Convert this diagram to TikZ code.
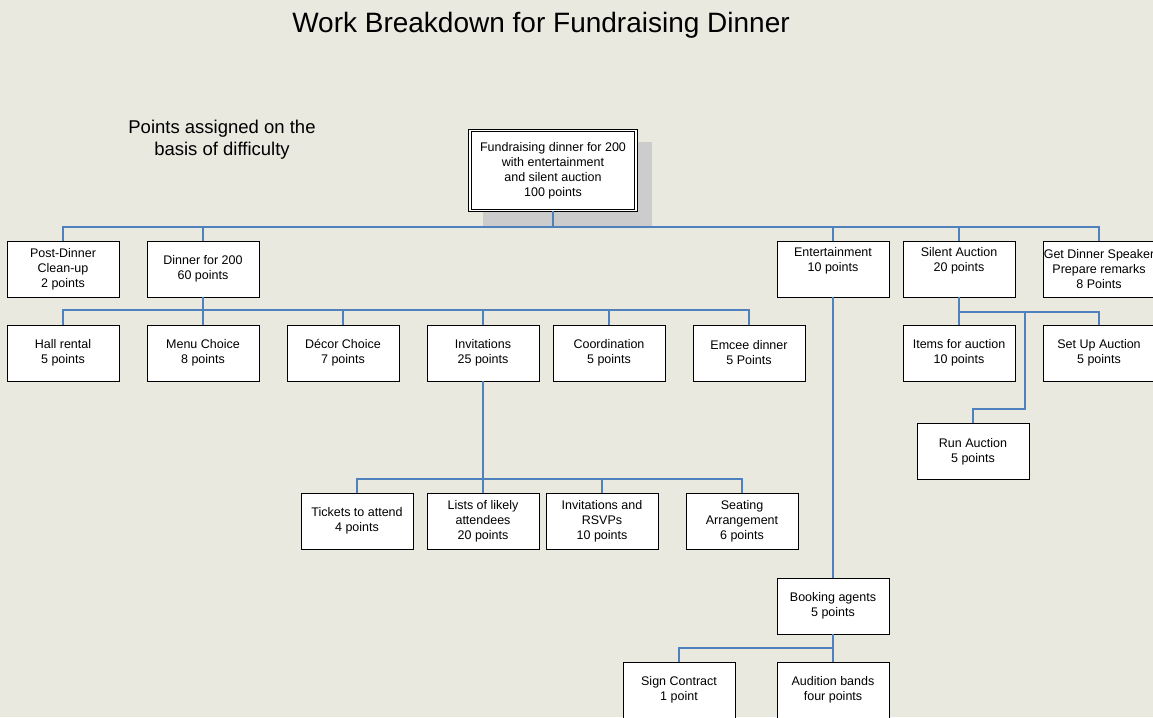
\documentclass[tikz,border=0pt]{standalone}
\usepackage{fontspec}
\setmainfont{Liberation Sans}
\definecolor{bg}{RGB}{233,233,223}
\definecolor{conn}{RGB}{79,129,189}
\definecolor{shadowgray}{RGB}{204,204,204}
\begin{document}
\begin{tikzpicture}[x=1pt,y=-1pt,
  box/.style={draw=black,line width=0.9pt,fill=white,minimum width=112pt,minimum height=56pt,
    inner sep=0pt,align=center,font=\fontsize{12.5}{15}\selectfont},
  wire/.style={draw=conn,line width=1.2pt}]
\useasboundingbox (0,0) rectangle (1153,717);
\clip (0,0) rectangle (1153,717);
\fill[bg] (0,0) rectangle (1153,717);
\node[font=\fontsize{28}{32}\selectfont] (title) at (541,25) {Work Breakdown for Fundraising Dinner};
\node[font=\fontsize{18.5}{22}\selectfont,align=center] (note) at (222,140) {Points assigned on the\\basis of difficulty};
% root
\fill[shadowgray] (483,142) rectangle (652,227);
\node[box,minimum width=166pt,minimum height=80pt,double,double distance=1.8pt,line width=0.8pt] (root) at (553,170.5)
  {Fundraising dinner for 200\\with entertainment\\and silent auction\\100 points};
% level 1
\node[box] (post) at (63,269) {Post-Dinner\\Clean-up\\2 points};
\node[box] (dinner) at (203,269) {Dinner for 200\\60 points};
\node[box] (ent) at (833,269) {Entertainment\\10 points\\\strut};
\node[box] (silent) at (959,269) {Silent Auction\\20 points\\\strut};
\node[box] (speaker) at (1099,269) {Get Dinner Speaker\\Prepare remarks\\8 Points};
% level 2
\node[box] (hall) at (63,353) {Hall rental\\5 points};
\node[box] (menu) at (203,353) {Menu Choice\\8 points};
\node[box] (decor) at (343,353) {Décor Choice\\7 points};
\node[box] (invit) at (483,353) {Invitations\\25 points};
\node[box] (coord) at (609,353) {Coordination\\5 points};
\node[box] (emcee) at (749,353) {Emcee dinner\\5 Points};
\node[box] (items) at (959,353) {Items for auction\\10 points};
\node[box] (setup) at (1099,353) {Set Up Auction\\5 points};
\node[box] (run) at (973,451.5) {Run Auction\\5 points};
% level 3
\node[box] (tickets) at (357,521) {Tickets to attend\\4 points};
\node[box] (lists) at (483,521) {Lists of likely\\attendees\\20 points};
\node[box] (rsvp) at (602,521) {Invitations and\\RSVPs\\10 points};
\node[box] (seat) at (742,521) {Seating\\Arrangement\\6 points};
\node[box] (book) at (833,606) {Booking agents\\5 points};
\node[box] (sign) at (679,690) {Sign Contract\\1 point};
\node[box] (aud) at (833,690) {Audition bands\\four points};
% connectors
\coordinate (b0) at (553,227);
\draw[wire] (root.south) -- (b0);
\foreach \n in {post,dinner,ent,silent,speaker} \draw[wire] (b0) -| (\n.north);
\coordinate (b1) at (203,310);
\draw[wire] (dinner.south) -- (b1);
\foreach \n in {hall,menu,decor,invit,coord,emcee} \draw[wire] (b1) -| (\n.north);
\coordinate (b2) at (959,312);
\coordinate (r1) at (1025,409);
\draw[wire] (silent.south) -- (b2);
\foreach \n in {items,setup} \draw[wire] (b2) -| (\n.north);
\draw[wire] (b2) -| (r1) -| (run.north);
\coordinate (b3) at (483,479);
\draw[wire] (invit.south) -- (b3);
\foreach \n in {tickets,lists,rsvp,seat} \draw[wire] (b3) -| (\n.north);
\draw[wire] (ent.south) -- (book.north);
\coordinate (b4) at (833,648);
\draw[wire] (book.south) -- (b4);
\foreach \n in {sign,aud} \draw[wire] (b4) -| (\n.north);
\end{tikzpicture}
\end{document}
